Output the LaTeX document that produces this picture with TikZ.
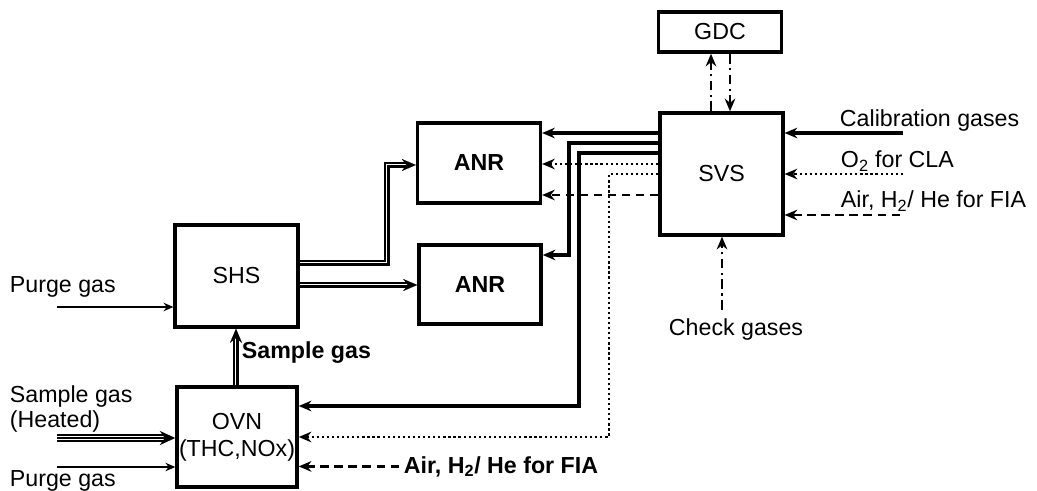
\documentclass[tikz,border=0pt]{standalone}
\usepackage{fontspec}
\setmainfont{Liberation Sans}
\usetikzlibrary{arrows.meta}

\begin{document}
\begin{tikzpicture}[
    x=0.025cm, y=-0.025cm,
    >={Stealth[length=9pt,width=7.5pt]},
    font=\fontsize{16.5}{19}\selectfont,
    unit/.style={draw,line width=2.4pt,inner sep=0pt,align=center},
    txt/.style={anchor=base west},
    flow/.style={->,line width=2.2pt},
    thinflow/.style={-{Stealth[length=7pt,width=6pt]},line width=1.5pt},
    dots/.style={->,line width=1.8pt,dash pattern=on 1.6pt off 2pt},
    dashes/.style={->,line width=1.7pt,dash pattern=on 6pt off 4pt},
    dashdots/.style={->,line width=1.8pt,dash pattern=on 7pt off 3pt on 1.8pt off 3pt},
    pipe/.style={-{Stealth[length=10pt,width=8.5pt]},line width=0.1pt,
      preaction={draw,-,double,line width=1.3pt,double distance=2pt,shorten >=7pt}},
    triplepipe/.style={-{Stealth[length=11pt,width=10pt]},line width=1.2pt,
      preaction={draw,-,double,line width=1.3pt,double distance=2.8pt,shorten >=8pt}}
  ]
  \useasboundingbox (0,0) rectangle (1037,491);
  % Units.
  \node[unit,minimum width=3.07cm,minimum height=1cm] (gdc) at (720,32) {GDC};
  \node[unit,minimum width=3.07cm,minimum height=3.05cm] (svs) at (721.5,174) {SVS};
  \node[unit,minimum width=3.07cm,minimum height=2cm,font=\fontsize{16.5}{19}\selectfont\bfseries] (anr1) at (479,163) {ANR};
  \node[unit,minimum width=3.05cm,minimum height=1.98cm,font=\fontsize{16.5}{19}\selectfont\bfseries] (anr2) at (480,284.5) {ANR};
  \node[unit,minimum width=3.07cm,minimum height=2.55cm] (shs) at (236.5,276) {SHS};
  \node[unit,minimum width=3cm,minimum height=2.5cm] (ovn) at (237,437) {OVN\\(THC,NOx)};
  % Labels.
  \node[txt] (calib) at (835,127) {Calibration gases};
  \node[txt] (o2) at (836,168) {O\textsubscript{2} for CLA};
  \node[txt] (airsvs) at (836,208) {Air, H\textsubscript{2}/ He for FIA};
  \node[anchor=base] (check) at (736,335) {Check gases};
  \node[txt] (purgeshs) at (5,292) {Purge gas};
  \node[txt] (sample) at (5,402) {Sample gas};
  \node[txt] (heated) at (5,427) {(Heated)};
  \node[txt] (purgeovn) at (5,486) {Purge gas};
  \node[txt,font=\fontsize{16.5}{19}\selectfont\bfseries] (samplegas) at (237,358) {Sample gas};
  \node[txt,font=\fontsize{16.5}{19}\selectfont\bfseries] (airovn) at (399,473) {Air, H\textsubscript{2}/ He for FIA};
  % Gases into SVS.
  \coordinate (calin) at (903,133);
  \coordinate (o2in) at (903,174);
  \coordinate (airin) at (900,215);
  \coordinate (checkin) at (722,310);
  \draw[flow] (calin) -- (svs.east |- calin);
  \draw[dots] (o2in) -- (svs.east |- o2in);
  \draw[dashes] (airin) -- (svs.east |- airin);
  \draw[dashdots] (checkin) -- (svs.south -| checkin);
  % SVS and GDC.
  \draw[dashdots] (svs.north -| 711,0) -- (gdc.south -| 711,0);
  \draw[dashdots] (gdc.south -| 730,0) -- (svs.north -| 730,0);
  % SVS to analysers and oven.
  \draw[flow] (svs.west |- 0,133) -- (anr1.east |- 0,133);
  \draw[dots] (svs.west |- 0,164) -- (anr1.east |- 0,164);
  \draw[dashes] (svs.west |- 0,195) -- (anr1.east |- 0,195);
  \draw[flow] (svs.west |- 0,143) -| (569,255) -- (anr2.east |- 0,255);
  \draw[flow] (svs.west |- 0,153) -| (579,406) -- (ovn.east |- 0,406);
  \draw[dots] (svs.west |- 0,174) -| (609,437) -- (ovn.east |- 0,437);
  \draw[dashes] (airovn.west) -- (ovn.east |- airovn.west);
  % Inputs on the left.
  \coordinate (purge1in) at (57,307);
  \coordinate (samplein) at (57,438);
  \coordinate (purge2in) at (57,467);
  \draw[thinflow] (purge1in) -- (shs.west |- purge1in);
  \draw[triplepipe] (samplein) -- (ovn.west |- samplein);
  \draw[thinflow] (purge2in) -- (ovn.west |- purge2in);
  % Sample path.
  \draw[pipe] (ovn.north -| 236,0) -- (shs.south -| 236,0);
  \draw[pipe] (shs.east |- 0,263) -| (387,165) -- (anr1.west |- 0,165);
  \draw[pipe] (shs.east |- 0,285) -- (anr2.west |- 0,285);
\end{tikzpicture}
\end{document}
